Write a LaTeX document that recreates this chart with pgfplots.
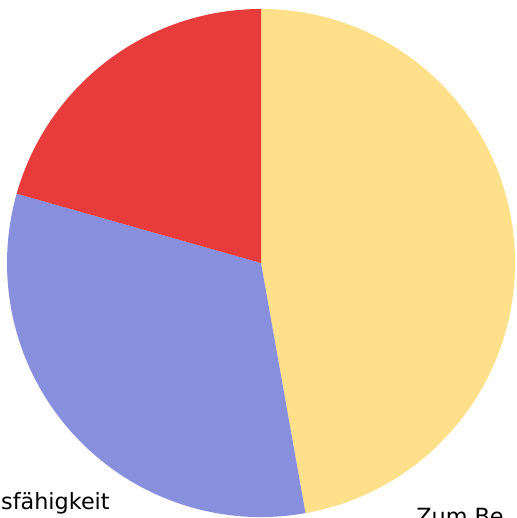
\documentclass[border=0pt]{standalone}
\usepackage{pgfplots}
\pgfplotsset{compat=1.18}
\usepackage{fontspec}
\setmainfont{DejaVu Sans}

\definecolor{pyellow}{RGB}{255,224,138}
\definecolor{ppurple}{RGB}{136,144,222}
\definecolor{pred}{RGB}{232,60,60}

% slice shares in percent, clockwise from 12 o'clock
\def\vA{47.2}
\def\vB{32.2}
\def\vC{20.6}

\begin{document}
\begin{tikzpicture}
\pgfmathsetmacro\aA{90}
\pgfmathsetmacro\aB{90-3.6*\vA}
\pgfmathsetmacro\aC{\aB-3.6*\vB}
\pgfmathsetmacro\aD{\aC-3.6*\vC}
\begin{axis}[
    hide axis,
    x=5cm, y=5cm,
    xmin=-1.0276, xmax=1.0039,
    ymin=-1.0039, ymax=1.0354,
    clip=false,
]
\fill[pyellow] (axis cs:0,0) -- (axis cs:{cos(\aA)},{sin(\aA)}) arc[start angle=\aA, end angle=\aB, radius=5cm] -- cycle;
\fill[ppurple] (axis cs:0,0) -- (axis cs:{cos(\aB)},{sin(\aB)}) arc[start angle=\aB, end angle=\aC, radius=5cm] -- cycle;
\fill[pred] (axis cs:0,0) -- (axis cs:{cos(\aC)},{sin(\aC)}) arc[start angle=\aC, end angle=\aD, radius=5cm] -- cycle;
\node[anchor=base east, inner sep=0pt, font=\fontsize{12.5}{15}\selectfont] at (axis cs:-0.5945,-0.9724) {sfähigkeit};
\node[anchor=base west, inner sep=0pt, font=\fontsize{12.5}{15}\selectfont] at (axis cs:0.6102,-1.0276) {Zum Be};
\end{axis}
\pgfresetboundingbox
\useasboundingbox (current axis.south west) rectangle (current axis.north east);
\end{tikzpicture}
\end{document}
